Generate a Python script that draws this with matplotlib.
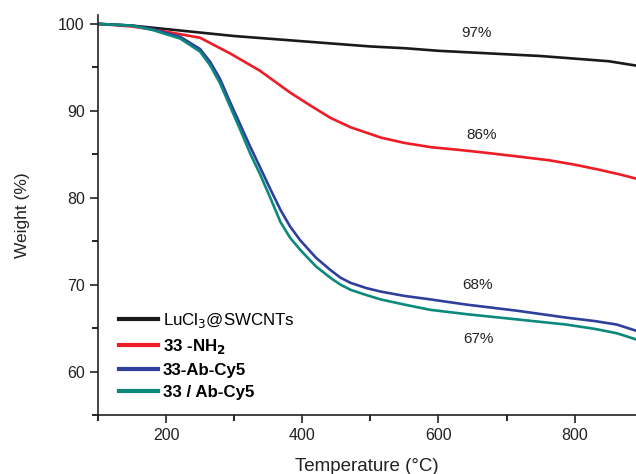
import matplotlib
matplotlib.use("Agg")
from matplotlib import pyplot as plt
from matplotlib.ticker import MultipleLocator

plt.rcParams['font.family'] = ['Liberation Sans', 'DejaVu Sans']

# temperature (°C) and weight (%)
t_black = [100, 150, 200, 250, 300, 350, 400, 450, 500, 550, 600, 650, 700, 750, 800, 850, 890]
w_black = [100, 99.8, 99.4, 99.0, 98.6, 98.3, 98.0, 97.7, 97.4, 97.2, 96.9, 96.7, 96.5, 96.3, 96.0, 95.7, 95.2]

t_red = [100, 150, 176, 200, 250, 294, 338, 382, 412, 441, 471, 516, 550, 590, 630, 666, 710, 763, 800, 837, 865, 890]
w_red = [100, 99.7, 99.4, 99.1, 98.4, 96.6, 94.6, 92.1, 90.6, 89.2, 88.1, 86.9, 86.3, 85.8, 85.5, 85.2,
         84.8, 84.3, 83.8, 83.2, 82.7, 82.2]

t_blue = [100, 150, 180, 221, 250, 265, 279, 294, 309, 324, 338, 353, 368, 382, 397, 420, 441, 456, 471,
          494, 515, 550, 588, 641, 715, 788, 830, 862, 890]
w_blue = [100, 99.8, 99.4, 98.5, 97.1, 95.6, 93.7, 91.0, 88.4, 85.8, 83.5, 81.0, 78.6, 76.7, 75.1, 73.1,
          71.7, 70.8, 70.2, 69.6, 69.2, 68.7, 68.3, 67.7, 67.0, 66.2, 65.8, 65.4, 64.7]

t_teal = [100, 150, 180, 221, 250, 265, 279, 294, 309, 324, 338, 353, 368, 382, 397, 420, 441, 456, 471,
          494, 515, 550, 588, 641, 715, 788, 830, 862, 890]
w_teal = [100, 99.8, 99.3, 98.3, 96.8, 95.2, 93.2, 90.5, 87.8, 85.0, 82.7, 80.0, 77.2, 75.4, 74.0, 72.1,
          70.8, 70.0, 69.4, 68.8, 68.3, 67.7, 67.1, 66.6, 66.0, 65.4, 64.9, 64.4, 63.7]

labels = ['LuCl$_3$@SWCNTs', '33 -NH$_\\mathbf{2}$', '33-Ab-Cy5', '33 / Ab-Cy5']
colors = ['#1a1a1a', '#ee1c25', '#2e3f9e', '#0b8a7c']

# percent annotations (temperature, weight, text)
notes = [(656, 98.9, '97%'), (663, 87.2, '86%'), (657, 69.9, '68%'), (659, 63.7, '67%')]

fig = plt.figure(figsize=(6.36, 4.74), dpi=100)
ax = fig.add_axes([0.154, 0.1245, 0.846, 0.8435])

series = [(t_black, w_black), (t_red, w_red), (t_blue, w_blue), (t_teal, w_teal)]
for (t, w), lab, c in zip(series, labels, colors):
    ax.plot(t, w, color=c, lw=1.9, label=lab)

for x, y, s in notes:
    ax.text(x, y, s, ha='center', va='center', fontsize=11, color='#222222')

ax.set_xlim(100, 890)
ax.set_ylim(55, 101)
ax.xaxis.set_major_locator(MultipleLocator(200))
ax.xaxis.set_minor_locator(MultipleLocator(100))
ax.yaxis.set_major_locator(MultipleLocator(10))
ax.yaxis.set_minor_locator(MultipleLocator(5))
ax.tick_params(which='major', direction='out', length=6, width=1.2, labelsize=11.5, colors='#222222')
ax.tick_params(which='minor', direction='out', length=4, width=1.2)
for side in ['top', 'right']:
    ax.spines[side].set_visible(False)
for side in ['left', 'bottom']:
    ax.spines[side].set_linewidth(1.2)
    ax.spines[side].set_color('#222222')

ax.set_xlabel('Temperature (°C)', fontsize=13.5, color='#222222', labelpad=11)
ax.set_ylabel('Weight (%)', fontsize=12.5, color='#222222', labelpad=20)

leg = ax.legend(loc='lower left', bbox_to_anchor=(0.01, 0.0), frameon=False,
                fontsize=12.2, handlelength=2.3, handletextpad=0.3, labelspacing=0.4)
for i, txt in enumerate(leg.get_texts()):
    if i > 0:
        txt.set_fontweight('bold')
for line in leg.get_lines():
    line.set_linewidth(3)

fig.savefig('out.png', dpi=100)
